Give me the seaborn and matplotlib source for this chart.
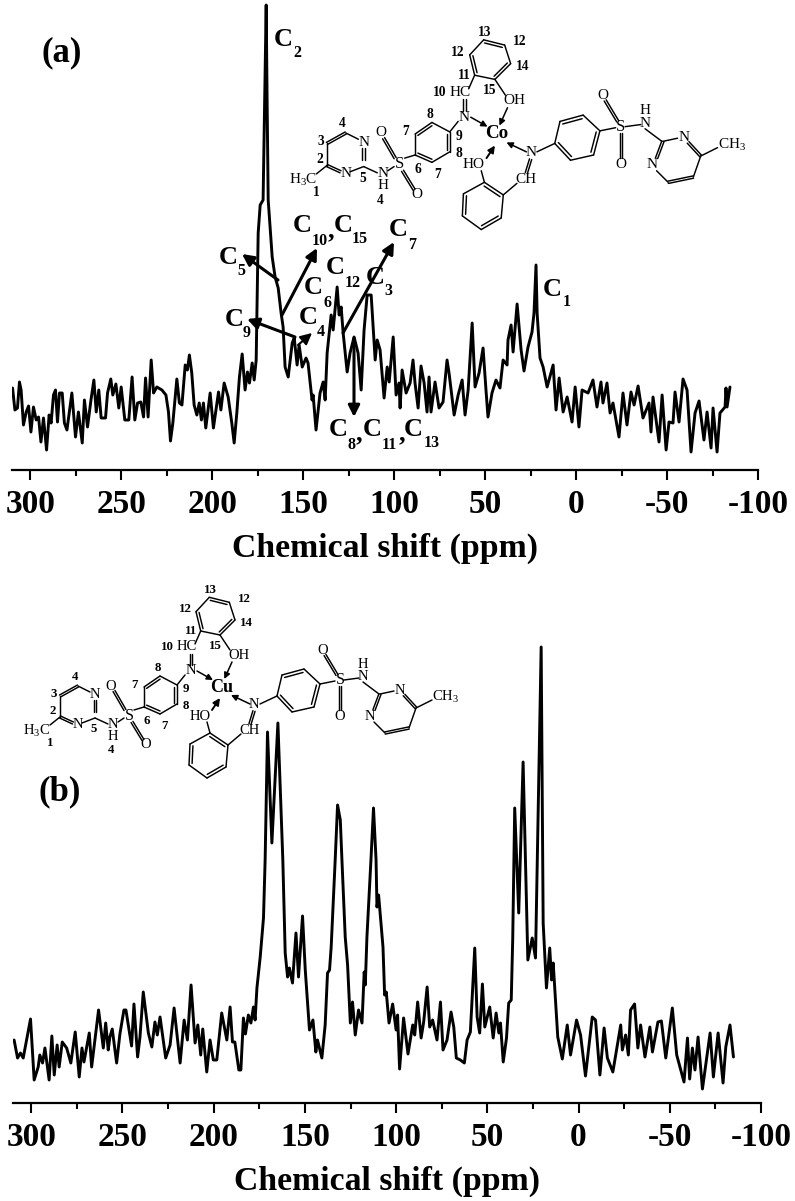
import matplotlib
matplotlib.use("Agg")
import matplotlib.pyplot as plt
import seaborn as sns

# spectrum (a), cobalt complex
a_ppm = [309.7, 308.4, 307, 305.9, 305, 303.7, 302.2, 300.9, 299.6, 298.2, 296.7, 295.4, 294.1, 292.7, 291, 289.6,
         288.5, 287.2, 286.1, 285, 283.9, 282.4, 281.2, 279.8, 277.1, 275.1, 273.5, 271.4, 270.2, 268.5, 266.6, 265,
         263.7, 262.3, 261, 258.6, 257.5, 255.7, 254.6, 252.9, 251.3, 250, 248, 245.8, 244, 242.5, 241, 239.2,
         237.7, 236.6, 235.2, 233.5, 232.2, 230.4, 227.6, 225.4, 224, 222.9, 221.6, 219.4, 218, 216.6, 214.8, 213.6,
         212.5, 211.2, 209.9, 208.4, 207.1, 205.9, 204.8, 203.5, 201.1, 199.3, 196.5, 195.2, 193.4, 191.2, 189.2, 187.9,
         186.4, 185, 183.5, 181.9, 180.6, 179.5, 178, 176.9, 175.8, 175.3, 174.7, 173.6, 172, 170.3, 169.8, 169.2,
         167, 165.4, 163.7, 162.1, 161, 159.9, 158.2, 156, 154.9, 153.3, 152.2, 150.5, 148.4, 147.3, 145.1, 144.5,
         142.9, 140.7, 139, 137.9, 136.8, 134.6, 133.5, 131.3, 130.2, 129.1, 128, 125.8, 124.2, 122, 119.8, 118.1,
         116.5, 114.8, 112.6, 110.4, 109.3, 107.7, 105.5, 103.8, 102.7, 100.5, 98.9, 97.3, 96.7, 95.6, 93.4, 91.2,
         89.6, 88.5, 86.8, 85.2, 83.5, 81.9, 80.8, 79.7, 77.5, 75.3, 73.1, 70.9, 69.8, 67, 64.8, 62.6,
         61, 59.3, 57.1, 55.5, 53.3, 51.1, 49.5, 48.4, 46.2, 44, 41.8, 40.1, 37.9, 37.4, 35.7, 34.6,
         32.4, 30.2, 28.6, 26.4, 24.2, 23.1, 22, 21.4, 19.8, 18.1, 15.9, 12.6, 11, 9.3, 7.1, 4.9,
         2.2, 0.5, -1.6, -3.3, -6.6, -9.3, -11.5, -13.7, -14.8, -17, -18.7, -20.3, -23.6, -25.8, -28, -30.2,
         -31.9, -34.1, -36.8, -40.1, -41.2, -42.3, -45.6, -47.3, -49.5, -51.1, -53.3, -54.4, -56.6, -58.8, -61, -63.2,
         -65.4, -67.6, -70.3, -72, -74.2, -75.3, -77.5, -79.1, -81.9, -82.4, -83, -84.6]
a_int = [82, 60, 62, 88, 80, 45, 58, 64, 38, 63, 50, 53, 28, 52, 20, 55,
         47, 75, 80, 48, 77, 77, 47, 40, 77, 33, 58, 27, 70, 43, 70, 90,
         58, 80, 52, 52, 77, 91, 75, 86, 62, 83, 50, 50, 93, 50, 67, 68,
         53, 92, 53, 110, 77, 83, 80, 75, 58, 29, 47, 91, 67, 65, 105, 100,
         115, 97, 65, 55, 67, 50, 67, 42, 77, 42, 78, 60, 87, 73, 47, 27,
         58, 93, 116, 80, 98, 87, 107, 90, 110, 170, 237, 265, 270, 465, 370, 270,
         213, 193, 182, 157, 143, 103, 93, 127, 132, 105, 125, 103, 112, 107, 70, 75,
         40, 77, 88, 70, 117, 155, 140, 183, 155, 163, 137, 98, 117, 133, 117, 80,
         140, 175, 175, 110, 130, 120, 72, 103, 88, 133, 75, 87, 62, 100, 77, 87,
         110, 87, 62, 104, 87, 58, 93, 58, 88, 62, 68, 110, 97, 55, 75, 90,
         55, 80, 147, 83, 97, 122, 80, 53, 77, 90, 82, 110, 105, 130, 145, 118,
         166, 120, 99, 123, 138, 157, 205, 157, 112, 103, 83, 105, 60, 92, 58, 73,
         48, 83, 43, 80, 77, 90, 63, 88, 67, 87, 57, 67, 33, 77, 45, 78,
         65, 84, 52, 67, 38, 73, 28, 75, 20, 48, 47, 78, 48, 91, 80, 18,
         57, 69, 30, 58, 22, 62, 18, 57, 63, 82, 63, 83]

# spectrum (b), copper complex
b_ppm = [309.4, 307.5, 305.9, 304.4, 300.4, 298.4, 296.2, 295.3, 293.8, 292.5, 290.2, 288.7, 287.4, 285.8, 284.7, 283,
         280.6, 278.3, 275.9, 273.7, 272.2, 271.1, 268.2, 266.9, 263.1, 260.5, 259.2, 257.8, 256.9, 255.6, 253.2, 251.4,
         249.2, 248.1, 245, 243.7, 241.7, 240.4, 238.6, 235.8, 233.9, 232.2, 230.9, 229.4, 226.3, 223.9, 221.7, 218.4,
         216.2, 214.4, 212.4, 210.2, 208.7, 207.1, 206, 203.8, 202, 200.2, 198.3, 195.6, 192.8, 191, 189.7, 188.4,
         186.2, 185.1, 183.7, 182.6, 181, 179.6, 178.2, 177.3, 176.3, 174.5, 172.7, 171.8, 170.5, 168.1, 164.8, 162.1,
         160.8, 159.5, 158.5, 156.8, 154.9, 153.5, 151.3, 149.8, 147.5, 145.6, 144, 143.1, 140.7, 138.9, 137.6, 136.5,
         135.6, 133.4, 132.1, 130.6, 129.7, 127.9, 126.6, 125.1, 123.9, 122.4, 120.6, 118.7, 117.5, 116.9, 116, 113.8,
         112.4, 111, 110.5, 109.6, 107.2, 106.3, 105.4, 103.9, 101.9, 100, 99.2, 98.1, 95.9, 93.5, 90.9, 89.8,
         88.2, 86.3, 84.9, 83, 81.6, 80, 77.6, 75.7, 74.3, 72.1, 69.9, 68.4, 67, 64.8, 62.6, 61.1,
         59.3, 56.9, 55.6, 54.2, 52.7, 51.4, 48.7, 46.8, 45.2, 43.7, 42.8, 41.3, 39.5, 38.3, 36.9, 36.1,
         35, 32.8, 30.4, 27.8, 25.4, 23.6, 20.5, 19.4, 17.6, 15.8, 14.8, 13.9, 12.1, 11.4, 8.9, 6.2,
         4.4, 1.1, -1.1, -3.8, -7.5, -9.3, -11.7, -14, -15.8, -18.8, -23.1, -24, -25.8, -27.3, -28.5, -30.7,
         -32.5, -34, -36.4, -39.1, -40.5, -43.5, -45.4, -47.8, -51.4, -53.8, -57.8, -59.7, -60.9, -62.4, -63.8, -65.5,
         -67.9, -69.7, -72.1, -73.9, -76.5, -79.2, -80.7, -83, -84.9]
b_int = [63, 45, 50, 45, 84, 23, 36, 48, 40, 55, 23, 67, 28, 58, 36, 61,
         55, 40, 71, 26, 55, 41, 70, 36, 93, 55, 80, 53, 66, 74, 40, 69,
         93, 93, 57, 99, 46, 66, 111, 70, 56, 81, 68, 86, 45, 58, 95, 40,
         83, 63, 118, 60, 78, 48, 74, 31, 63, 43, 43, 90, 63, 96, 61, 61,
         33, 33, 85, 69, 88, 80, 96, 83, 115, 146, 185, 243, 371, 260, 380, 243,
         150, 126, 135, 120, 170, 126, 187, 133, 73, 83, 51, 63, 45, 78, 130, 133,
         156, 243, 298, 283, 243, 166, 138, 80, 101, 68, 93, 80, 131, 118, 166, 243,
         295, 243, 196, 208, 156, 108, 111, 80, 99, 73, 88, 34, 85, 49, 78, 68,
         101, 65, 81, 116, 76, 83, 63, 101, 53, 63, 91, 76, 45, 43, 40, 63,
         71, 155, 86, 70, 119, 76, 96, 65, 90, 70, 80, 41, 65, 100, 103, 163,
         295, 190, 341, 143, 165, 145, 456, 180, 115, 155, 123, 140, 86, 66, 44, 78,
         48, 83, 68, 27, 86, 83, 28, 75, 45, 31, 78, 53, 68, 48, 93, 99,
         55, 78, 46, 76, 51, 81, 82, 45, 95, 48, 21, 65, 24, 55, 33, 66,
         14, 38, 70, 26, 70, 20, 56, 78, 46]

major_ticks = [300, 250, 200, 150, 100, 50, 0, -50, -100]
major_labels = ["300", "250", "200", "150", "100", "50", "0", "-50", "-100"]
minor_ticks = [275, 225, 175, 125, 75, 25, -25, -75]

sns.set_theme(style="white")
plt.rcParams['font.family'] = ['Liberation Serif', 'DejaVu Serif']
plt.rcParams['font.weight'] = 'bold'
plt.rcParams['mathtext.default'] = 'regular'

W, H = 795, 1201
fig = plt.figure(figsize=(W / 100, H / 100), dpi=100, facecolor="white")


def spectrum(left, right, top, bottom, ppm, intensity):
    ax = fig.add_axes([left / W, 1 - bottom / H, (right - left) / W, (bottom - top) / H])
    sns.lineplot(x=ppm, y=intensity, ax=ax, color="black", lw=2.1, sort=False, estimator=None, errorbar=None,
                 solid_joinstyle="round")
    ax.set_xlim(310, -100)
    ax.set_ylim(0, bottom - top)
    ax.patch.set_alpha(0)
    for s in ["top", "left", "right"]:
        ax.spines[s].set_visible(False)
    ax.spines["bottom"].set_linewidth(1.6)
    ax.spines["bottom"].set_color("black")
    ax.set_yticks([])
    ax.set_xticks(major_ticks, labels=major_labels)
    ax.set_xticks(minor_ticks, minor=True)
    ax.tick_params(axis="x", which="major", bottom=True, length=7.5, width=1.5, color="black", labelsize=24,
                   labelcolor="black", pad=6.5)
    ax.tick_params(axis="x", which="minor", bottom=True, length=4, width=1.5, color="black")
    ax.set_xlabel("Chemical shift (ppm)", fontsize=24.3, fontweight="bold", color="black", labelpad=9)
    ax.set_ylabel("")
    return ax


ax_a = spectrum(12, 758, 0, 470, a_ppm, a_int)
ax_b = spectrum(13, 761, 640, 1103, b_ppm, b_int)

# overlay in pixel units for the labels and the drawn structures
ov = fig.add_axes([0, 0, 1, 1])
ov.set_xlim(0, W)
ov.set_ylim(H, 0)
ov.axis("off")
ov.patch.set_alpha(0)


def txt(x, y, s, size, weight="bold"):
    ov.text(x, y, s, fontsize=size, fontweight=weight, color="black", ha="center", va="center")


def arrow(p0, p1, lw=2.2, scale=17):
    ov.annotate("", xy=p1, xytext=p0, xycoords="data", textcoords="data",
                arrowprops=dict(arrowstyle="-|>", color="black", lw=lw, mutation_scale=scale,
                                shrinkA=0, shrinkB=0))


def molecule(cx, cy, k, metal):
    def P(p):
        return cx + k * p[0], cy + k * p[1]

    def bond(p, q, lw=1.05):
        (x0, y0), (x1, y1) = P(p), P(q)
        ov.plot([x0, x1], [y0, y1], color="black", lw=lw, solid_capstyle="round")

    def dbl(p, q, gap=2.2):
        (x0, y0), (x1, y1) = p, q
        dx, dy = x1 - x0, y1 - y0
        n = (dx * dx + dy * dy) ** 0.5
        ox, oy = -dy / n * gap / 2, dx / n * gap / 2
        bond((x0 + ox, y0 + oy), (x1 + ox, y1 + oy))
        bond((x0 - ox, y0 - oy), (x1 - ox, y1 - oy))

    def ring(pts, doubles):
        n = len(pts)
        for i in range(n):
            p, q = pts[i], pts[(i + 1) % n]
            bond(p, q)
            if i in doubles:
                mx = sum(v[0] for v in pts) / n
                my = sum(v[1] for v in pts) / n
                a = (p[0] + (mx - p[0]) * 0.16, p[1] + (my - p[1]) * 0.16)
                b = (q[0] + (mx - q[0]) * 0.16, q[1] + (my - q[1]) * 0.16)
                bond(a, b)

    def atom(p, s, size=10.5):
        x, y = P(p)
        txt(x, y, s, size * k, "normal")

    def num(p, s):
        x, y = P(p)
        txt(x, y, s, 9.3 * k)

    # salicyl ring on top and its imine
    ring([(-12.7, -89.7), (7.3, -84.7), (13, -67), (-2, -52), (-21.3, -56), (-26, -75.3)], {0, 2, 4})
    bond((-21.3, -56), (-27, -43))
    dbl((-31, -33), (-31, -22))
    bond((-2, -52), (8, -37))
    atom((-35, -40), "HC")
    atom((16.7, -31.7), "OH")
    atom((-31, -16), "N")
    arrow(P((10, -25)), P((2.3, -8)), lw=1.1, scale=9)
    arrow(P((-25, -16)), P((-9, -7)), lw=1.1, scale=9)
    # left phenylene, sulfonyl and pyrimidine
    ring([(-78, 0), (-62, -11), (-45, -2), (-45, 17), (-62, 27), (-78, 20)], {0, 2, 4})
    bond((-37, -12), (-45, -2))
    bond((-88, 23), (-78, 20))
    dbl((-97, 23), (-108, 4))
    dbl((-90, 35), (-79, 53))
    bond((-104, 35), (-98, 31))
    atom((-93, 29), "S", 11.5)
    atom((-111, -1), "O")
    atom((-76, 58), "O")
    atom((-109, 38), "N")
    atom((-109, 49), "H")
    bond((-127, 31), (-114, 37))
    dbl((-162, 9), (-144, -1))
    bond((-144, -1), (-132, 5))
    dbl((-127, 13), (-127, 25))
    bond((-127, 31), (-140, 36))
    dbl((-149, 36), (-162, 30))
    bond((-162, 30), (-162, 9))
    bond((-162, 30), (-172, 38))
    atom((-127, 8), "N")
    atom((-144, 38), "N")
    atom((-185, 44), "H$_3$C")
    # right half
    arrow(P((28, 17)), P((9, 8)), lw=1.1, scale=9)
    bond((38, 17), (55, 9))
    ring([(55, 9), (60, -12), (82, -18), (98, -3), (92, 20), (70, 25)], {1, 3, 5})
    bond((98, -3), (113, -6))
    dbl((115, -12), (103, -32))
    dbl((118, -1), (118, 23))
    bond((122, -7), (137, -9))
    bond((141, -5), (157, 7))
    atom((32, 18), "N")
    atom((118, -7), "S", 11.5)
    atom((101, -37), "O")
    atom((118, 29), "O")
    atom((141, -10), "N")
    atom((141, -22), "H")
    bond((158, 7), (172, 4))
    dbl((182, 8), (194, 21))
    bond((194, 21), (187, 41))
    dbl((187, 41), (163, 46))
    bond((163, 46), (152, 35))
    dbl((152, 23), (158, 7))
    bond((194, 21), (210, 13))
    atom((178, 3), "N")
    atom((148, 29), "N")
    x, y = P((210, 10))
    ov.text(x, y, "CH$_3$", fontsize=10.5 * k, fontweight="normal", color="black", ha="left", va="center")
    # lower salicyl ring
    arrow(P((-10, 23)), P((-2, 11)), lw=1.4, scale=10)
    bond((-15, 35), (-12, 46))
    ring([(-12, 46), (6, 58), (4, 80), (-15, 91), (-33, 78), (-32, 57)], {0, 2, 4})
    bond((6, 58), (19, 47))
    dbl((32, 24), (28, 37))
    atom((-22, 29), "HO")
    atom((28, 43), "CH")
    # metal
    x, y = P((0, 0))
    txt(x, y, metal, 13 * k)
    # carbon numbering
    for p, s in [((-172, 56), "1"), ((-169, 24), "2"), ((-168, 7), "3"), ((-147, -10), "4"), ((-128, 42), "5"),
                 ((-111, 63), "4"), ((-75, 34), "6"), ((-87, -2), "7"), ((-57, 39), "7"), ((-64, -19), "8"),
                 ((-36, 19), "8"), ((-36, 2), "9"), ((-55, -40), "10"), ((-31, -56), "11"), ((-37, -78), "12"),
                 ((-12, -97), "13"), ((22, -88), "12"), ((24, -64), "14"), ((-7, -41), "15")]:
        num(p, s)


molecule(497, 134, 1.05, "Co")
molecule(222, 687, 1.0, "Cu")

txt(62, 53, "(a)", 25)
txt(60, 792, "(b)", 25)

# peak assignment labels for (a)
for x, y, s in [(283, 39, "C"), (302, 226, "C"), (343, 226, "C"), (228, 257, "C"), (335, 268, "C"), (313, 288, "C"),
                (375, 277, "C"), (398, 230, "C"), (308, 317, "C"), (234, 320, "C"), (338, 430, "C"), (372, 430, "C"),
                (413, 430, "C"), (552, 289, "C")]:
    txt(x, y, s, 19)
for x, y, s in [(297, 53, "2"), (320, 241, "10"), (360, 239, "15"), (241, 271, "5"), (353, 283, "12"), (328, 303, "6"),
                (388, 291, "3"), (412, 245, "7"), (321, 332, "4"), (247, 333, "9"), (351, 445, "8"), (389, 445, "11"),
                (432, 443, "13"), (567, 302, "1")]:
    txt(x, y, s, 11.5)
for x, y in [(331, 231), (359, 434), (402, 434)]:
    txt(x, y, ",", 19)

arrow((278, 280), (242, 254))
arrow((282, 315), (317, 248))
arrow((343, 333), (394, 242))
arrow((295, 337), (247, 319))
arrow((298, 345), (312, 333), lw=1.5)
arrow((354, 338), (354, 417))

fig.savefig("out.png", dpi=100, facecolor="white")
